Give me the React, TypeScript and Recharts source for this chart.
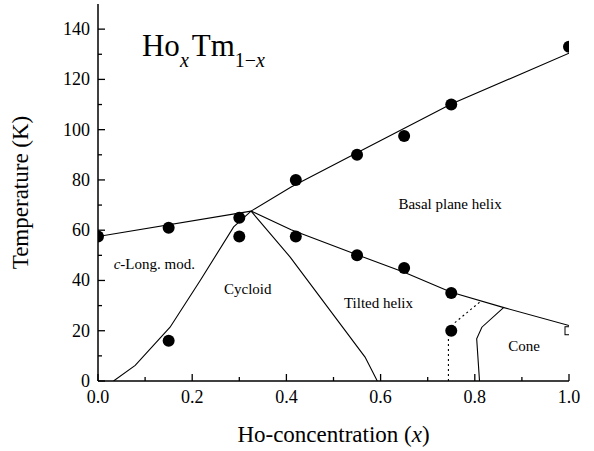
import React from 'react';
import {
  ComposedChart,
  Line,
  Scatter,
  XAxis,
  YAxis,
  ReferenceDot
} from 'recharts';

// measured points (filled circles)
const dotX = [0, 0.15, 0.15, 0.3, 0.3, 0.42, 0.42, 0.55, 0.55, 0.65, 0.65, 0.75, 0.75, 0.75, 1.0];
const dotY = [57.5, 61, 16, 65, 57.5, 80, 57.5, 90, 50, 97.5, 45, 110, 35, 20, 133];

// open square at x = 1.0
const squareX = [1.0];
const squareY = [20];

// phase boundaries
const paraLeftX = [0, 0.325];
const paraLeftY = [57.5, 67.6];
const paraRightX = [0.325, 0.41, 0.55, 0.75, 1.0];
const paraRightY = [67.6, 77.2, 90.8, 110.2, 130.4];
const basalX = [0.325, 0.41, 0.55, 0.65, 0.75, 0.86, 1.0];
const basalY = [67.6, 60.2, 50.2, 43.3, 35.3, 29.3, 22.1];
const cycloidLeftX = [0.033, 0.079, 0.153, 0.217, 0.288, 0.325];
const cycloidLeftY = [0, 6.2, 21.4, 40, 61.3, 67.6];
const cycloidRightX = [0.325, 0.408, 0.567, 0.593];
const cycloidRightY = [67.6, 49.3, 9.5, 0];
const dottedX = [0.744, 0.744, 0.755, 0.815];
const dottedY = [0, 18.1, 22.8, 32.1];
const coneX = [0.81, 0.804, 0.815, 0.861];
const coneY = [0, 16.8, 21.4, 29.2];

// ticks
const xTicks = [0, 0.1, 0.2, 0.3, 0.4, 0.5, 0.6, 0.7, 0.8, 0.9, 1.0];
const yTicks = [0, 10, 20, 30, 40, 50, 60, 70, 80, 90, 100, 110, 120, 130, 140];

// region labels
const regionNames = ['Basal plane helix', 'Cycloid', 'Tilted helix', 'Cone'];
const regionX = [0.7475, 0.318, 0.5955, 0.9045];
const regionY = [68.6, 34.7, 29, 11.8];
const longModX = 0.1195;
const longModY = 44.7;
const titleX = 0.0934;
const titleY = 129.3;

const FONT = 'Liberation Serif, DejaVu Serif, serif';
const serif = { fontFamily: FONT };
const MAJOR = 7;
const MINOR = 4;

const pts = (xs: number[], ys: number[]) => xs.map((x, i) => ({ x, y: ys[i] }));

const isMajorX = (v: number) => Math.round(v * 10) % 2 === 0;
const isMajorY = (v: number) => Math.round(v) % 20 === 0;

const BottomTick = (props: any) => {
  const { x, y, payload } = props;
  const major = isMajorX(payload.value);
  return (
    <g>
      <line x1={x} y1={y} x2={x} y2={y - (major ? MAJOR : MINOR)} stroke="#000" strokeWidth={1.3} />
      {major && (
        <text x={x} y={y + 21.5} textAnchor="middle" style={serif} fontSize={18} fill="#000">
          {payload.value.toFixed(1)}
        </text>
      )}
    </g>
  );
};

const TopTick = (props: any) => {
  const { x, y, payload } = props;
  const major = isMajorX(payload.value);
  return <line x1={x} y1={y} x2={x} y2={y + (major ? MAJOR : MINOR)} stroke="#000" strokeWidth={1.3} />;
};

const LeftTick = (props: any) => {
  const { x, y, payload } = props;
  const major = isMajorY(payload.value);
  return (
    <g>
      <line x1={x} y1={y} x2={x + (major ? MAJOR : MINOR)} y2={y} stroke="#000" strokeWidth={1.3} />
      {major && (
        <text x={x - 8} y={y + 6} textAnchor="end" style={serif} fontSize={18} fill="#000">
          {payload.value}
        </text>
      )}
    </g>
  );
};

const RightTick = (props: any) => {
  const { x, y, payload } = props;
  const major = isMajorY(payload.value);
  return <line x1={x} y1={y} x2={x - (major ? MAJOR : MINOR)} y2={y} stroke="#000" strokeWidth={1.3} />;
};

const XLabel = (props: any) => {
  const { viewBox } = props;
  return (
    <text x={viewBox.x + viewBox.width / 2} y={viewBox.y + 60.5} textAnchor="middle" style={serif} fontSize={23} fill="#000">
      Ho-concentration (<tspan fontStyle="italic">x</tspan>)
    </text>
  );
};

const YLabel = (props: any) => {
  const { viewBox } = props;
  const cx = viewBox.x + 28;
  const cy = viewBox.y + viewBox.height / 2;
  return (
    <text x={cx} y={cy} textAnchor="middle" transform={`rotate(-90, ${cx}, ${cy})`} style={serif} fontSize={23} fill="#000">
      Temperature (K)
    </text>
  );
};

const centerOf = (vb: any) => ({ cx: vb.x + vb.width / 2, cy: vb.y + vb.height / 2 });

const regionLabel = (name: string) => (props: any) => {
  const { cx, cy } = centerOf(props.viewBox);
  return (
    <text x={cx} y={cy} textAnchor="middle" style={serif} fontSize={15} fill="#000">
      {name}
    </text>
  );
};

const LongModLabel = (props: any) => {
  const { cx, cy } = centerOf(props.viewBox);
  return (
    <text x={cx} y={cy} textAnchor="middle" style={serif} fontSize={15} fill="#000">
      <tspan fontStyle="italic">c</tspan>-Long. mod.
    </text>
  );
};

const TitleLabel = (props: any) => {
  const { cx, cy } = centerOf(props.viewBox);
  return (
    <text x={cx} y={cy} textAnchor="start" style={serif} fontSize={31} fill="#000">
      Ho
      <tspan fontSize={20} fontStyle="italic" dy={10.7}>x</tspan>
      <tspan fontSize={31} dx={3} dy={-10.7}>Tm</tspan>
      <tspan fontSize={20} dy={10.7}>1−</tspan>
      <tspan fontSize={20} fontStyle="italic">x</tspan>
    </text>
  );
};

const Dot = (props: any) => <circle cx={props.cx} cy={props.cy} r={6} fill="#000" />;
const Square = (props: any) => (
  <rect x={props.cx - 4} y={props.cy - 4} width={8} height={8} fill="#fff" stroke="#000" strokeWidth={1} />
);

const boundaries = [
  { key: 'paraLeft', data: pts(paraLeftX, paraLeftY), dash: undefined },
  { key: 'paraRight', data: pts(paraRightX, paraRightY), dash: undefined },
  { key: 'basal', data: pts(basalX, basalY), dash: undefined },
  { key: 'cycloidLeft', data: pts(cycloidLeftX, cycloidLeftY), dash: undefined },
  { key: 'cycloidRight', data: pts(cycloidRightX, cycloidRightY), dash: undefined },
  { key: 'dotted', data: pts(dottedX, dottedY), dash: '2 3' },
  { key: 'cone', data: pts(coneX, coneY), dash: undefined }
];

const App: React.FC = () => {
  return (
    <div style={{ position: 'absolute', left: 0, top: 0, width: 594, height: 451, background: '#fff', fontFamily: FONT }}>
      <ComposedChart width={594} height={451} margin={{ top: 4, right: 25, bottom: 0, left: 0 }}>
        <XAxis
          type="number"
          dataKey="x"
          domain={[0, 1]}
          ticks={xTicks}
          interval={0}
          allowDataOverflow
          height={70}
          tickSize={0}
          tickMargin={0}
          tickLine={false}
          tick={BottomTick}
          axisLine={{ stroke: '#000', strokeWidth: 1.5 }}
          label={<XLabel />}
        />
        <XAxis
          xAxisId="top"
          orientation="top"
          type="number"
          dataKey="x"
          domain={[0, 1]}
          ticks={xTicks}
          interval={0}
          height={0}
          tickSize={0}
          tickMargin={0}
          tickLine={false}
          tick={TopTick}
          axisLine={{ stroke: '#000', strokeWidth: 1.5 }}
        />
        <YAxis
          type="number"
          dataKey="y"
          domain={[0, 150]}
          ticks={yTicks}
          interval={0}
          allowDataOverflow
          width={98}
          tickSize={0}
          tickMargin={0}
          tickLine={false}
          tick={LeftTick}
          axisLine={{ stroke: '#000', strokeWidth: 1.5 }}
          label={<YLabel />}
        />
        <YAxis
          yAxisId="right"
          orientation="right"
          type="number"
          domain={[0, 150]}
          ticks={yTicks}
          interval={0}
          width={0}
          tickSize={0}
          tickMargin={0}
          tickLine={false}
          tick={RightTick}
          axisLine={{ stroke: '#000', strokeWidth: 1.5 }}
        />
        {boundaries.map(b => (
          <Line
            key={b.key}
            data={b.data}
            dataKey="y"
            type="linear"
            stroke="#000"
            strokeWidth={1.1}
            strokeDasharray={b.dash}
            dot={false}
            activeDot={false}
            isAnimationActive={false}
          />
        ))}
        <Scatter data={pts(dotX, dotY)} dataKey="y" shape={Dot} isAnimationActive={false} />
        <Scatter data={pts(squareX, squareY)} dataKey="y" shape={Square} isAnimationActive={false} />
        {regionNames.map((name, i) => (
          <ReferenceDot key={name} x={regionX[i]} y={regionY[i]} r={0} fill="none" stroke="none" label={regionLabel(name)} />
        ))}
        <ReferenceDot x={longModX} y={longModY} r={0} fill="none" stroke="none" label={LongModLabel} />
        <ReferenceDot x={titleX} y={titleY} r={0} fill="none" stroke="none" label={TitleLabel} />
      </ComposedChart>
    </div>
  );
};

export default App;
